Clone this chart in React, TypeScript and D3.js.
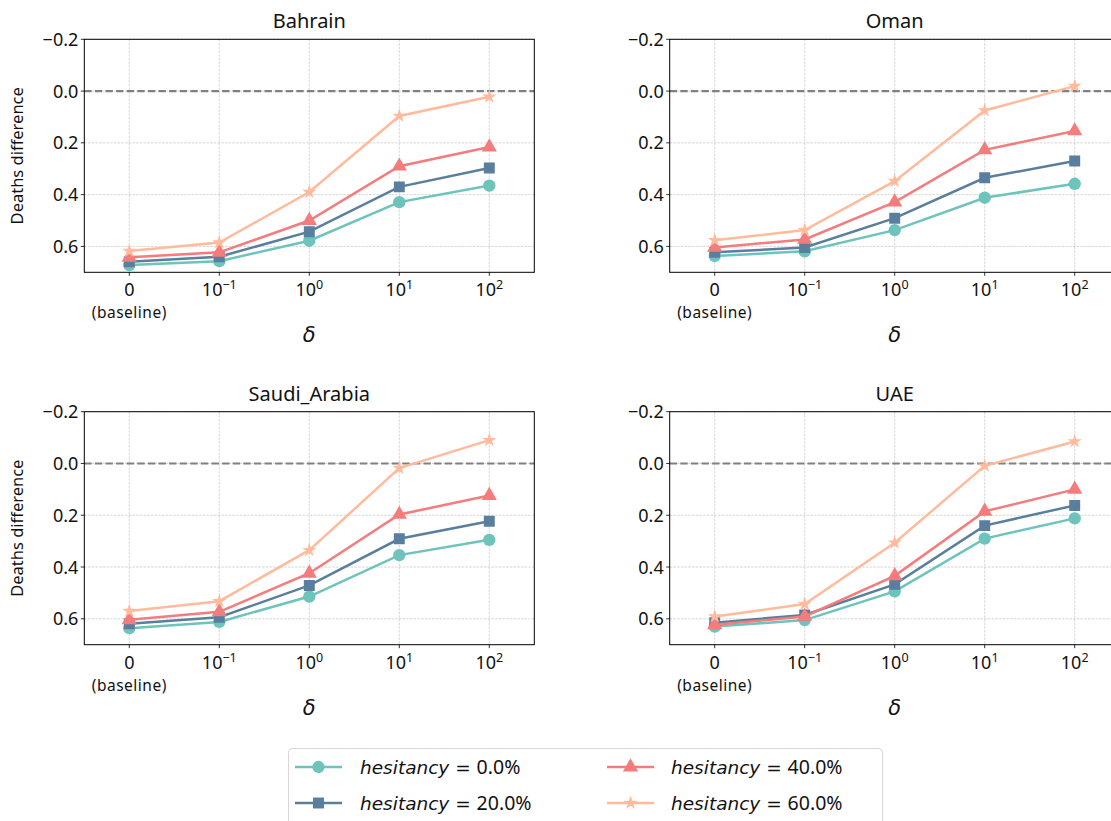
import React from "react";
import * as d3 from "d3";

const countries = ["Bahrain", "Oman", "Saudi_Arabia", "UAE"];
const xCategories = [0, 1, 2, 3, 4];
const xTickBase = ["0", "10", "10", "10", "10"];
const xTickExp = ["", "−1", "0", "1", "2"];
const yTicks = [-0.2, 0.0, 0.2, 0.4, 0.6];
const hesitancyLabels = ["0.0%", "20.0%", "40.0%", "60.0%"];
const seriesColors = ["#6cc4bb", "#5a7f9e", "#f47c7c", "#ffbb9c"];
const seriesMarkers = ["circle", "square", "triangle", "star"];

const bahrain = [
  [0.672, 0.657, 0.578, 0.429, 0.365],
  [0.659, 0.64, 0.543, 0.37, 0.297],
  [0.642, 0.623, 0.5, 0.29, 0.216],
  [0.618, 0.585, 0.39, 0.096, 0.022],
];
const oman = [
  [0.637, 0.619, 0.537, 0.412, 0.358],
  [0.623, 0.604, 0.491, 0.335, 0.27],
  [0.604, 0.573, 0.429, 0.227, 0.154],
  [0.576, 0.537, 0.348, 0.075, -0.019],
];
const saudi = [
  [0.636, 0.612, 0.514, 0.354, 0.295],
  [0.619, 0.594, 0.471, 0.291, 0.223],
  [0.604, 0.573, 0.424, 0.197, 0.124],
  [0.57, 0.532, 0.335, 0.018, -0.09],
];
const uae = [
  [0.63, 0.605, 0.494, 0.29, 0.212],
  [0.615, 0.585, 0.467, 0.24, 0.162],
  [0.623, 0.591, 0.434, 0.185, 0.1],
  [0.591, 0.543, 0.306, 0.009, -0.085],
];
const countryData = [bahrain, oman, saudi, uae];

const FONT = "'Noto Sans', 'DejaVu Sans', sans-serif";
const MATH = "'DejaVu Sans', sans-serif";

const PW = 450;
const PH = 233;
const panelPos = [
  [84.3, 39.3],
  [669.7, 39.3],
  [84.3, 411.7],
  [669.7, 411.7],
];

function markerPath(kind: string): string {
  const sym =
    kind === "circle"
      ? d3.symbolCircle
      : kind === "square"
      ? d3.symbolSquare
      : kind === "triangle"
      ? d3.symbolTriangle
      : d3.symbolStar;
  const size =
    kind === "circle" ? 120 : kind === "square" ? 120 : kind === "triangle" ? 100 : 62;
  return d3.symbol(sym, size)() as string;
}

function Panel({ idx }: { idx: number }) {
  const [px, py] = panelPos[idx];
  const x = d3.scaleLinear().domain([-0.5, 4.5]).range([0, PW]);
  const y = d3.scaleLinear().domain([-0.2, 0.7]).range([0, PH]);
  const data = countryData[idx];
  const line = d3
    .line<number>()
    .x((_, i) => x(xCategories[i]))
    .y((d) => y(d));
  return (
    <g transform={`translate(${px},${py})`}>
      <defs>
        <clipPath id={`clip${idx}`}>
          <rect x={0} y={0} width={PW} height={PH} />
        </clipPath>
      </defs>
      {xCategories.map((c) => (
        <line
          key={"gx" + c}
          x1={x(c)}
          x2={x(c)}
          y1={0}
          y2={PH}
          stroke="#b0b0b0"
          strokeWidth={0.7}
          strokeDasharray="2.6,1.1"
          opacity={0.7}
        />
      ))}
      {yTicks.map((t) => (
        <line
          key={"gy" + t}
          x1={0}
          x2={PW}
          y1={y(t)}
          y2={y(t)}
          stroke="#b0b0b0"
          strokeWidth={0.7}
          strokeDasharray="2.6,1.1"
          opacity={0.7}
        />
      ))}
      <line
        x1={0}
        x2={PW}
        y1={y(0)}
        y2={y(0)}
        stroke="#808080"
        strokeWidth={2.2}
        strokeDasharray="7.4,3.2"
      />
      <g clipPath={`url(#clip${idx})`}>
        {data.map((s, si) => (
          <g key={si}>
            <path
              d={line(s) as string}
              fill="none"
              stroke={seriesColors[si]}
              strokeWidth={2.5}
            />
            {s.map((v, i) => (
              <path
                key={i}
                d={markerPath(seriesMarkers[si])}
                transform={`translate(${x(xCategories[i])},${y(v)})`}
                fill={seriesColors[si]}
              />
            ))}
          </g>
        ))}
      </g>
      <rect x={0} y={0} width={PW} height={PH} fill="none" stroke="#000" strokeWidth={1} />
      {yTicks.map((t) => (
        <g key={"yt" + t} transform={`translate(0,${y(t)})`}>
          <line x1={-3.5} x2={0} stroke="#000" strokeWidth={0.8} />
          <text
            x={-6}
            dy="0.36em"
            textAnchor="end"
            fontFamily={FONT}
            fontSize={18}
            fill="#111"
          >
            {t < 0 ? "−" + Math.abs(t).toFixed(1) : t.toFixed(1)}
          </text>
        </g>
      ))}
      {xCategories.map((c, i) => (
        <g key={"xt" + c} transform={`translate(${x(c)},${PH})`}>
          <line y1={0} y2={3.5} stroke="#000" strokeWidth={0.8} />
          <text
            y={24}
            textAnchor="middle"
            fontFamily={FONT}
            fontSize={18}
            fill="#111"
          >
            {xTickBase[i]}
            {xTickExp[i] && (
              <tspan dy={-7} fontSize={12.5}>
                {xTickExp[i]}
              </tspan>
            )}
          </text>
          {i === 0 && (
            <text
              y={46}
              textAnchor="middle"
              fontFamily={FONT}
              fontSize={15.5}
              letterSpacing={0.5}
              fill="#111"
            >
              (baseline)
            </text>
          )}
        </g>
      ))}
      <text
        x={PW / 2}
        y={PH + 70}
        textAnchor="middle"
        fontFamily={MATH}
        fontStyle="italic"
        fontSize={21}
        fill="#111"
      >
        δ
      </text>
      <text
        x={PW / 2}
        y={-11}
        textAnchor="middle"
        fontFamily={FONT}
        fontSize={20}
        fill="#111"
      >
        {countries[idx]}
      </text>
      {idx % 2 === 0 && (
        <text
          transform={`translate(${-61},${PH / 2}) rotate(-90)`}
          textAnchor="middle"
          fontFamily={FONT}
          fontSize={16.5}
          fill="#111"
        >
          Deaths difference
        </text>
      )}
    </g>
  );
}

function Legend() {
  const lx = 288.5;
  const ly = 748.5;
  const cols = [
    { lineX: 295, textX: 360 },
    { lineX: 607, textX: 671 },
  ];
  const rows = [767, 803];
  return (
    <g>
      <rect
        x={lx}
        y={ly}
        width={594}
        height={90}
        rx={4}
        fill="#fff"
        stroke="#d6d6d6"
        strokeWidth={1}
      />
      {hesitancyLabels.map((lab, i) => {
        const col = cols[Math.floor(i / 2)];
        const ry = rows[i % 2];
        return (
          <g key={lab}>
            <line
              x1={col.lineX}
              x2={col.lineX + 47}
              y1={ry}
              y2={ry}
              stroke={seriesColors[i]}
              strokeWidth={2.5}
            />
            <path
              d={markerPath(seriesMarkers[i])}
              transform={`translate(${col.lineX + 23.5},${ry})`}
              fill={seriesColors[i]}
            />
            <text x={col.textX} y={ry} dy="0.36em" fontSize={18.5} fill="#111">
              <tspan fontFamily={MATH} fontStyle="italic">
                hesitancy
              </tspan>
              <tspan fontFamily={MATH}> = </tspan>
              <tspan fontFamily={FONT} fontSize={19.5}>{lab}</tspan>
            </text>
          </g>
        );
      })}
    </g>
  );
}

export default function App() {
  return (
    <svg
      width={1111}
      height={821}
      style={{ position: "absolute", left: 0, top: 0, background: "#fff" }}
    >
      <rect width={1111} height={821} fill="#fff" />
      {countries.map((_, i) => (
        <Panel key={i} idx={i} />
      ))}
      <Legend />
    </svg>
  );
}
